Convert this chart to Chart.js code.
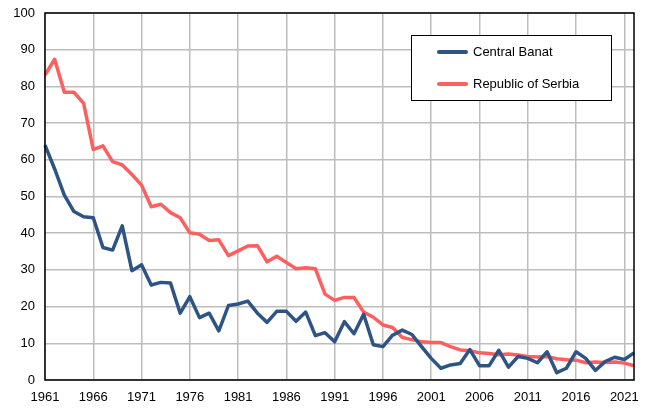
<!DOCTYPE html>
<html>
<head>
<meta charset="utf-8">
<script src="https://cdn.jsdelivr.net/npm/chart.js@4/dist/chart.umd.min.js"></script>
<style>
  html, body { margin: 0; padding: 0; background: #fff; }
  #wrap { width: 645px; height: 410px; }
</style>
</head>
<body>
<div id="wrap"><canvas id="chart" width="645" height="410"></canvas></div>
<script>
// data
const years = [];
for (let y = 1961; y <= 2022; y++) years.push(String(y));

const centralBanat = [
  64, 57.5, 50.4, 45.9, 44.5, 44.2, 36.1, 35.4, 42, 29.8,
  31.4, 25.9, 26.6, 26.4, 18.2, 22.7, 17, 18.2, 13.4, 20.3,
  20.7, 21.5, 18.2, 15.7, 18.7, 18.7, 16, 18.5, 12.1, 12.9,
  10.4, 15.9, 12.6, 17.9, 9.6, 9.1, 12.2, 13.6, 12.4, 9.1,
  5.9, 3.2, 4.1, 4.5, 8.3, 3.9, 3.9, 8.1, 3.5, 6.4,
  5.9, 4.7, 7.7, 2, 3.2, 7.7, 5.9, 2.6, 5, 6.2,
  5.6, 7.4
];
const serbia = [
  83.1, 87.4, 78.4, 78.4, 75.4, 62.8, 63.8, 59.5, 58.6, 56,
  53.1, 47.2, 47.9, 45.6, 44.2, 40.1, 39.7, 38, 38.2, 33.9,
  35.2, 36.5, 36.6, 32.2, 33.7, 32, 30.3, 30.6, 30.3, 23.4,
  21.7, 22.5, 22.5, 18.5, 17.1, 15, 14.3, 11.6, 11, 10.4,
  10.2, 10.2, 9.1, 8.2, 8, 7.4, 7.2, 6.9, 7.1, 6.8,
  6.4, 6.3, 6.4, 5.8, 5.5, 5.4, 4.7, 4.9, 4.8, 4.9,
  4.6, 3.9
];
const seriesNames = ['Central Banat', 'Republic of Serbia'];
const seriesColors = ['#2E5486', '#FF5F5F'];

const FONT = '"Liberation Sans", Arial, sans-serif';

// cadre noir autour de la zone de tracé + légende encadrée
const boxPlugin = {
  id: 'boxPlugin',
  afterDraw(chart) {
    const { ctx, chartArea: a } = chart;
    ctx.save();
    ctx.strokeStyle = '#000';
    ctx.lineWidth = 1.5;
    ctx.strokeRect(a.left, a.top, a.right - a.left, a.bottom - a.top);

    // legend
    const lx = 411, ly = 35, lw = 200, lh = 65;
    ctx.fillStyle = '#fff';
    ctx.fillRect(lx, ly, lw, lh);
    ctx.lineWidth = 1;
    ctx.strokeRect(lx + 0.5, ly + 0.5, lw, lh);
    ctx.font = '13px ' + FONT;
    ctx.textBaseline = 'middle';
    chart.data.datasets.forEach((ds, i) => {
      const yy = 52 + i * 32;
      ctx.strokeStyle = ds.borderColor;
      ctx.lineWidth = 4;
      ctx.lineCap = 'round';
      ctx.beginPath();
      ctx.moveTo(439, yy);
      ctx.lineTo(466, yy);
      ctx.stroke();
      ctx.fillStyle = '#000';
      ctx.fillText(ds.label, 473, yy);
    });
    ctx.restore();
  }
};

new Chart(document.getElementById('chart'), {
  type: 'line',
  data: {
    labels: years,
    datasets: [
      { label: seriesNames[0], data: centralBanat, borderColor: seriesColors[0] },
      { label: seriesNames[1], data: serbia, borderColor: seriesColors[1] }
    ].map(d => Object.assign(d, { borderWidth: 3.5, pointRadius: 0, tension: 0, fill: false, borderJoinStyle: 'round' }))
  },
  options: {
    responsive: false,
    animation: false,
    layout: { padding: { top: 13, right: 11, left: 0, bottom: 0 } },
    plugins: { legend: { display: false }, tooltip: { enabled: false } },
    scales: {
      x: {
        offset: false,
        grid: {
          drawTicks: false,
          lineWidth: 1.5,
          color: c => ((c.index % 5) === 0 ? '#bdbdbd' : 'rgba(0,0,0,0)')
        },
        border: { display: false },
        ticks: {
          autoSkip: false,
          maxRotation: 0,
          padding: 10,
          color: '#000',
          font: { family: FONT, size: 13 },
          callback: function (v, i) { return (i % 5 === 0) ? this.getLabelForValue(v) : ''; }
        },
        afterFit: s => { s.height = 30; s.paddingLeft = 0; s.paddingRight = 0; }
      },
      y: {
        min: 0,
        max: 100,
        grid: { drawTicks: false, lineWidth: 1.5, color: '#bdbdbd' },
        border: { display: false },
        ticks: { stepSize: 10, padding: 10, color: '#000', font: { family: FONT, size: 13 } },
        afterFit: s => { s.width = 45; s.paddingTop = 0; s.paddingBottom = 0; }
      }
    }
  },
  plugins: [boxPlugin]
});
</script>
</body>
</html>
